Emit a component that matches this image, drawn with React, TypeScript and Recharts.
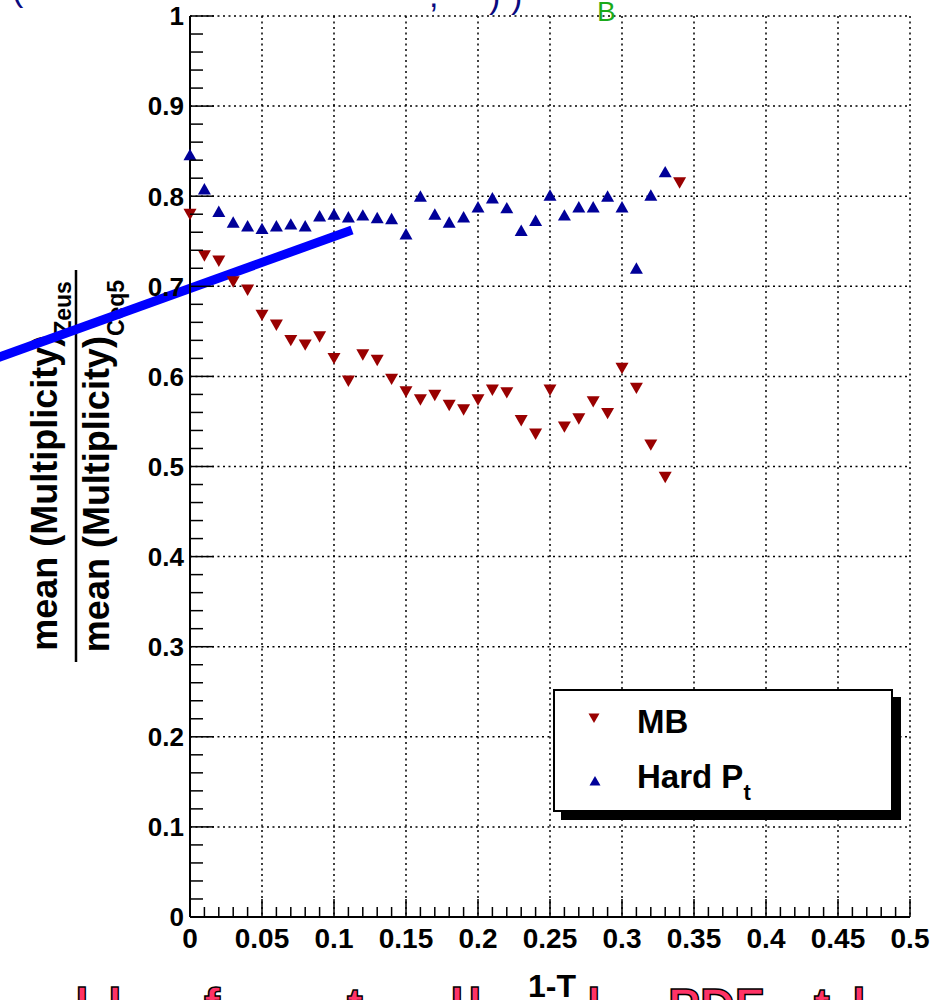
import React from "react";
import {
  ScatterChart,
  Scatter,
  XAxis,
  YAxis,
  CartesianGrid,
  ReferenceLine,
  Legend,
  Customized,
} from "recharts";

const FONT = "'Liberation Sans', Arial, Helvetica, sans-serif";
const MB_COLOR = "#990000";
const HARD_COLOR = "#000099";

// bins in 1-T
const binX = [
  0, 0.01, 0.02, 0.03, 0.04, 0.05, 0.06, 0.07, 0.08, 0.09, 0.1, 0.11, 0.12,
  0.13, 0.14, 0.15, 0.16, 0.17, 0.18, 0.19, 0.2, 0.21, 0.22, 0.23, 0.24, 0.25,
  0.26, 0.27, 0.28, 0.29, 0.3, 0.31, 0.32, 0.33, 0.34,
];

const mbValues = [
  0.78, 0.734, 0.728, 0.705, 0.696, 0.668, 0.657, 0.64, 0.635, 0.644, 0.62,
  0.595, 0.624, 0.618, 0.597, 0.583, 0.574, 0.579, 0.568, 0.563, 0.574, 0.585,
  0.582, 0.551, 0.536, 0.585, 0.544, 0.553, 0.572, 0.559, 0.609, 0.587, 0.524,
  0.488, 0.815,
];

const hardPtValues = [
  0.846, 0.808, 0.783, 0.771, 0.767, 0.764, 0.767, 0.769, 0.767, 0.778, 0.78,
  0.777, 0.779, 0.776, 0.775, 0.758, 0.8, 0.78, 0.771, 0.777, 0.788, 0.798,
  0.787, 0.762, 0.773, 0.801, 0.779, 0.788, 0.788, 0.8, 0.788, 0.72, 0.801,
  0.827,
];

const xMajorTicks = [0, 0.05, 0.1, 0.15, 0.2, 0.25, 0.3, 0.35, 0.4, 0.45, 0.5];
const xTickLabels = ["0", "0.05", "0.1", "0.15", "0.2", "0.25", "0.3", "0.35", "0.4", "0.45", "0.5"];
const yMajorTicks = [0, 0.1, 0.2, 0.3, 0.4, 0.5, 0.6, 0.7, 0.8, 0.9, 1];
const yTickLabels = ["0", "0.1", "0.2", "0.3", "0.4", "0.5", "0.6", "0.7", "0.8", "0.9", "1"];
const xMinorTicks = Array.from({ length: 51 }, (_, i) => i / 100);
const yMinorTicks = Array.from({ length: 51 }, (_, i) => i / 50);

const mbData = mbValues.map((y, i) => ({ x: binX[i], y }));
const hardPtData = hardPtValues.map((y, i) => ({ x: binX[i], y }));

const majorIndex = (v: number, step: number) => {
  const k = Math.round(v / step);
  return Math.abs(v - k * step) < 1e-6 ? k : -1;
};

const labelStyle = { fontFamily: FONT, fontWeight: "bold" as const, fill: "#000" };

const BottomTick = ({ x, y, payload }: any) => {
  const k = majorIndex(payload.value, 0.05);
  return (
    <g>
      <line x1={x} x2={x} y1={y} y2={y - (k >= 0 ? 18 : 10)} stroke="#000" strokeWidth={1.5} />
      {k >= 0 && (
        <text x={x} y={y + 11} dy="0.71em" textAnchor="middle" fontSize={28} {...labelStyle}>
          {xTickLabels[k]}
        </text>
      )}
    </g>
  );
};

const TopTick = ({ x, y, payload }: any) => {
  const k = majorIndex(payload.value, 0.05);
  return <line x1={x} x2={x} y1={y} y2={y + (k >= 0 ? 18 : 10)} stroke="#000" strokeWidth={1.5} />;
};

const LeftTick = ({ x, y, payload }: any) => {
  const k = majorIndex(payload.value, 0.1);
  return (
    <g>
      <line x1={x} x2={x + (k >= 0 ? 24 : 13)} y1={y} y2={y} stroke="#000" strokeWidth={1.5} />
      {k >= 0 && (
        <text x={x - 6} y={y} dy="0.36em" textAnchor="end" fontSize={26} {...labelStyle}>
          {yTickLabels[k]}
        </text>
      )}
    </g>
  );
};

const RightTick = ({ x, y, payload }: any) => {
  const k = majorIndex(payload.value, 0.1);
  return <line x1={x} x2={x - (k >= 0 ? 24 : 13)} y1={y} y2={y} stroke="#000" strokeWidth={1.5} />;
};

const triDown = (cx: number, cy: number, s: number) =>
  `${cx - s / 2},${cy - s * 0.42} ${cx + s / 2},${cy - s * 0.42} ${cx},${cy + s * 0.46}`;
const triUp = (cx: number, cy: number, s: number) =>
  `${cx - s / 2},${cy + s * 0.42} ${cx + s / 2},${cy + s * 0.42} ${cx},${cy - s * 0.46}`;

const MbMarker = ({ cx, cy }: any) => <polygon points={triDown(cx, cy, 13)} fill={MB_COLOR} />;
const HardMarker = ({ cx, cy }: any) => <polygon points={triUp(cx, cy, 13)} fill={HARD_COLOR} />;

const LegendBox = () => (
  <div
    style={{
      width: 340,
      height: 123,
      border: "2px solid #000",
      background: "#fff",
      boxShadow: "8px 8px 0 #000",
      boxSizing: "border-box",
    }}
  >
    <svg width={336} height={119}>
      <polygon points={triDown(39, 27, 11)} fill={MB_COLOR} />
      <text x={82} y={42} fontSize={33} {...labelStyle}>MB</text>
      <polygon points={triUp(40, 90, 11)} fill={HARD_COLOR} />
      <text x={82} y={97} fontSize={33} {...labelStyle}>
        Hard P
        <tspan fontSize={22} dy={12}>t</tspan>
      </text>
    </svg>
  </div>
);

// overlay pieces: y title, x title and fragments of slide text
const Decorations = () => (
  <g>
    <g {...labelStyle}>
      <text transform="translate(57,466) rotate(-90)" textAnchor="middle" fontSize={36}>
        mean (Multiplicity)
        <tspan fontSize={23} dy={14}>Zeus</tspan>
      </text>
      <line x1={76} x2={76} y1={270} y2={662} stroke="#000" strokeWidth={2.5} />
      <text transform="translate(109,466) rotate(-90)" textAnchor="middle" fontSize={36}>
        mean (Multiplicity)
        <tspan fontSize={23} dy={15}>Ceq5</tspan>
      </text>
      <text x={552} y={997} textAnchor="middle" fontSize={32}>1-T</text>
    </g>
    <g fontFamily={FONT} fontWeight="bold" fontSize={48} fill="#ff3366" stroke="#000" strokeWidth={1.5} textAnchor="middle">
      <text x={82} y={1022}>l</text>
      <text x={115} y={1022}>l</text>
      <text x={212} y={1022}>f</text>
      <text x={355} y={1022}>t</text>
      <text x={457} y={1022}>l</text>
      <text x={475} y={1022}>l</text>
      <text x={594} y={1022}>l</text>
      <text x={716} y={1022}>PDF</text>
      <text x={822} y={1022}>t</text>
      <text x={859} y={1022}>l</text>
    </g>
    <g fontFamily={FONT} fontSize={34} fill="#0a0a80">
      <text x={12} y={1}>(</text>
      <text x={429} y={7}>,</text>
      <text x={489} y={8}>)</text>
      <text x={511} y={8}>)</text>
    </g>
    <text x={597} y={21} fontFamily={FONT} fontSize={28} fill="#1aaa1a">B</text>
  </g>
);

const App = () => {
  return (
    <div style={{ position: "absolute", left: 0, top: 0, width: 934, height: 1000, background: "#fff" }}>
      <ScatterChart width={934} height={1000} margin={{ top: 16, right: 24, bottom: 0, left: 0 }}>
        {/* axes without series: only grid lines and mirrored ticks */}
        <XAxis xAxisId="grid" type="number" dataKey="x" domain={[0, 0.5]} ticks={xMajorTicks} allowDataOverflow hide />
        <YAxis yAxisId="grid" type="number" dataKey="y" domain={[0, 1]} ticks={yMajorTicks} allowDataOverflow hide />
        <CartesianGrid
          xAxisId="grid"
          yAxisId="grid"
          stroke="#000"
          strokeWidth={1.5}
          strokeDasharray="2 3.5"
        />
        <XAxis
          type="number"
          dataKey="x"
          domain={[0, 0.5]}
          ticks={xMinorTicks}
          interval={0}
          height={83}
          tickSize={0}
          tickMargin={0}
          tickLine={false}
          tick={<BottomTick />}
          axisLine={{ stroke: "#000", strokeWidth: 2 }}
        />
        <XAxis
          xAxisId="top"
          orientation="top"
          type="number"
          dataKey="x"
          domain={[0, 0.5]}
          ticks={xMinorTicks}
          interval={0}
          allowDataOverflow
          height={0}
          tickSize={0}
          tickMargin={0}
          tickLine={false}
          tick={<TopTick />}
          axisLine={{ stroke: "#000", strokeWidth: 2 }}
        />
        <YAxis
          type="number"
          dataKey="y"
          domain={[0, 1]}
          ticks={yMinorTicks}
          interval={0}
          width={190}
          tickSize={0}
          tickMargin={0}
          tickLine={false}
          tick={<LeftTick />}
          axisLine={{ stroke: "#000", strokeWidth: 2 }}
        />
        <YAxis
          yAxisId="right"
          orientation="right"
          type="number"
          dataKey="y"
          domain={[0, 1]}
          ticks={yMinorTicks}
          interval={0}
          allowDataOverflow
          width={0}
          tickSize={0}
          tickMargin={0}
          tickLine={false}
          tick={<RightTick />}
          axisLine={{ stroke: "#000", strokeWidth: 2 }}
        />
        <Scatter name="MB" data={mbData} shape={<MbMarker />} isAnimationActive={false} />
        <Scatter name="Hard Pt" data={hardPtData} shape={<HardMarker />} isAnimationActive={false} />
        <ReferenceLine
          segment={[
            { x: -0.14, y: 0.617 },
            { x: 0.1125, y: 0.7625 },
          ]}
          ifOverflow="visible"
          stroke="#0000ff"
          strokeWidth={9}
        />
        <Legend
          layout="horizontal"
          verticalAlign="middle"
          align="center"
          content={<LegendBox />}
          wrapperStyle={{ left: 553, top: 689, width: 340, height: 123 }}
        />
        <Customized component={Decorations} />
      </ScatterChart>
    </div>
  );
};

export default App;
